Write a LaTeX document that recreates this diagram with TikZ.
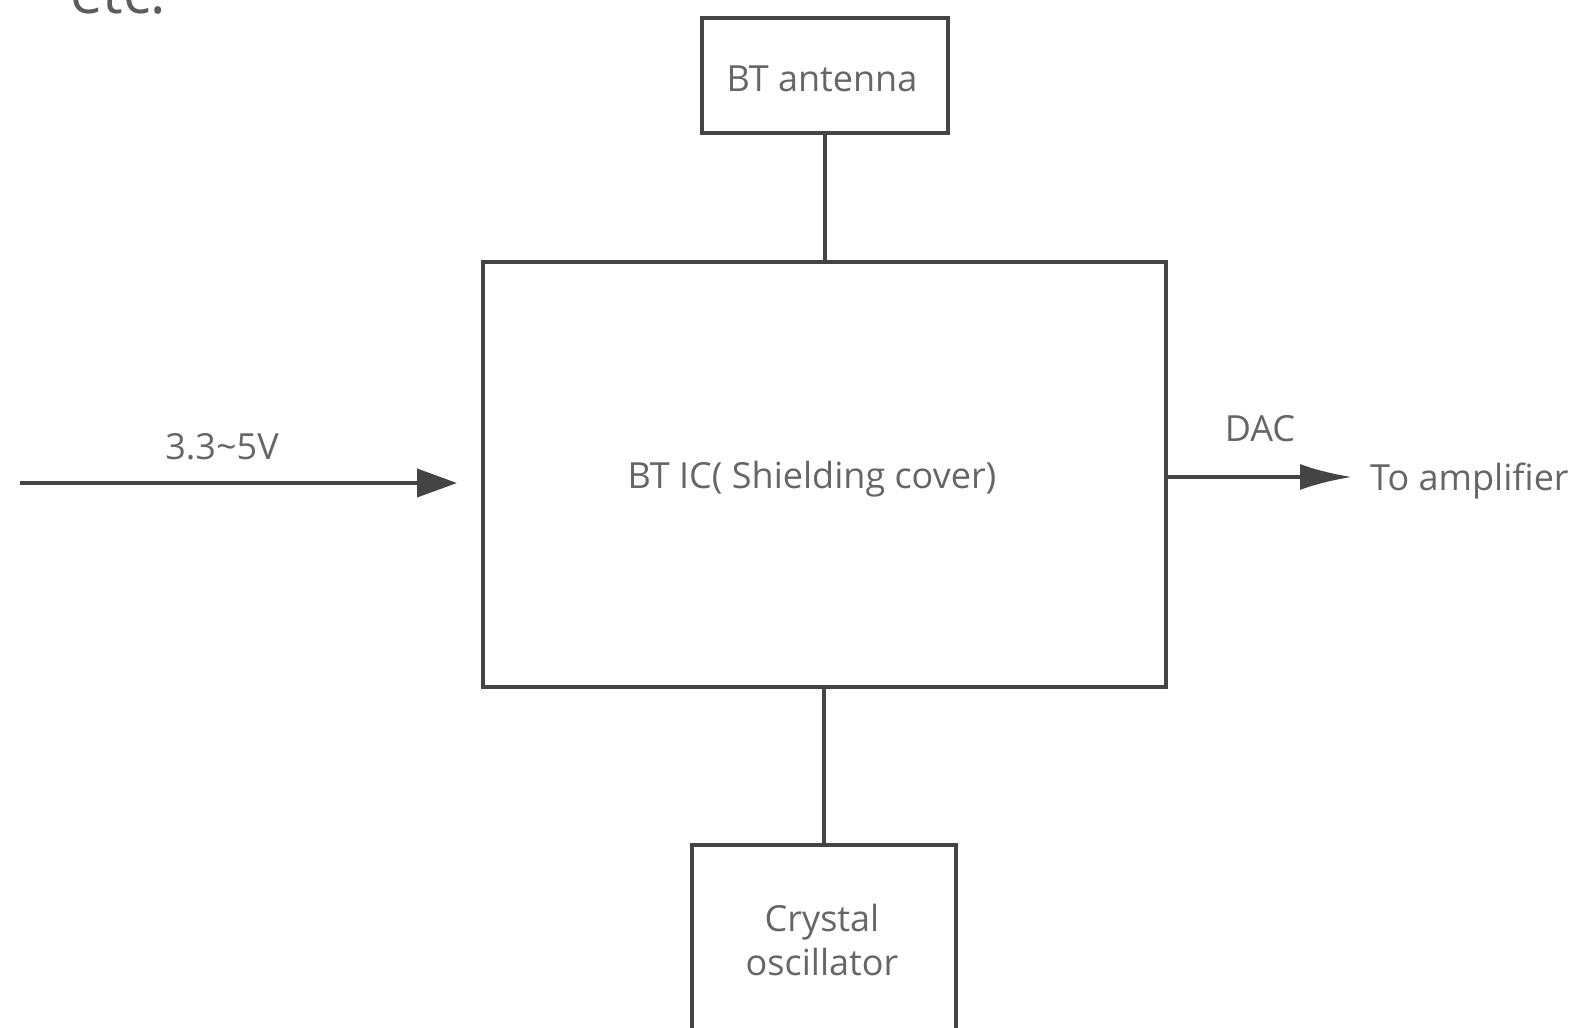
\documentclass[tikz,border=0pt]{standalone}
\usepackage{fontspec}
\setmainfont{Open Sans}
\usetikzlibrary{arrows.meta}
\definecolor{linecol}{HTML}{444444}
\definecolor{txtcol}{HTML}{666666}
\begin{document}
\begin{tikzpicture}[x=1pt,y=-1pt,
  box/.style={draw=linecol,line width=4pt,minimum width=#1,inner sep=0pt},
  lbl/.style={text=txtcol,font=\fontsize{36}{44}\selectfont,inner sep=0pt},
  wire/.style={draw=linecol,line width=4pt}]
\useasboundingbox (0,0) rectangle (1580,1028);
% partial text at top edge (cut off in the reference too)
\node[text=txtcol!90!black,font=\fontsize{58}{60}\selectfont,anchor=base west,inner sep=0pt] (etc) at (70,13) {etc.};
% boxes
\node[box=246pt,minimum height=115pt] (ant) at (825,75.5) {};
\node[lbl] (antt) at (822,79) {BT antenna};
\node[box=683pt,minimum height=425pt] (main) at (824.5,474.5) {};
\node[lbl] (maint) at (812,479) {BT IC( Shielding cover)};
\node[box=264pt,minimum height=186pt] (xtal) at (824,938) {};
\node[lbl,align=center] (xtalt) at (822,940) {Crystal\\oscillator};
% connectors
\draw[wire] (ant.south) -- (main.north -| ant.south);
\draw[wire] (main.south -| xtal.north) -- (xtal.north);
\coordinate (vin) at (20,483);
\coordinate (vend) at (457,483);
\draw[wire,-{Triangle[length=40pt,width=28pt]}] (vin) -- (vend);
\node[lbl] (vlbl) at (222,447) {3.3\textasciitilde 5V};
\coordinate (dacend) at (1352,477);
\draw[wire,-{Latex[length=52pt,width=26pt]}] (main.east |- dacend) -- (dacend);
\node[lbl] (dac) at (1260,429) {DAC};
\node[lbl,anchor=west] (amp) at (1370,481) {To amplifier};
\end{tikzpicture}
\end{document}
